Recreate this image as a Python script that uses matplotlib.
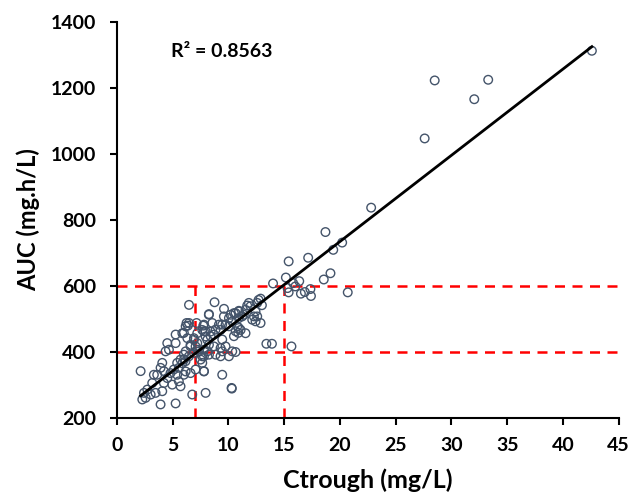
import matplotlib
matplotlib.use("Agg")
import matplotlib.pyplot as plt
import numpy as np

# Ctrough (mg/L) and AUC (mg.h/L)
ctrough = [
    42.6, 28.5, 33.3, 32.05, 27.6, 22.8, 18.7, 20.2, 19.4, 17.15, 15.4, 19.15, 18.55, 15.15,
    14.0, 16.35, 15.8, 15.3, 16.0, 15.4, 16.5, 16.85, 17.35, 17.4, 20.7, 13.4, 13.9, 15.65,
    8.75, 12.88, 13.0, 12.7, 12.58, 11.83, 11.68, 11.98, 11.53, 10.93, 10.64, 10.19, 9.59, 9.6,
    10.04, 10.34, 10.93, 11.23, 11.38, 12.28, 12.43, 12.58, 12.43, 12.88, 12.13, 10.93, 10.64,
    10.88, 10.49, 11.09, 11.53, 10.79, 9.74, 9.14, 8.84, 8.25, 7.8, 7.95, 8.69, 9.44, 9.74,
    9.29, 10.64, 10.34, 9.44, 9.29, 8.55, 8.4, 7.95, 7.65, 7.2, 6.46, 6.16, 5.86, 6.31, 6.9,
    6.6, 7.05, 7.35, 7.8, 7.65, 8.25, 8.85, 9.29, 10.04, 9.44, 8.7, 8.25, 6.16, 6.01, 5.86,
    6.16, 7.8, 9.44, 10.28, 7.95, 6.75, 6.46, 10.04, 10.49, 10.94,
    8.24, 6.24, 6.36, 7.14, 7.74, 6.0, 5.26, 4.51, 5.26, 4.36, 4.66, 6.9, 7.2, 6.6, 7.2, 8.1,
    8.4, 7.8, 8.1, 7.8, 7.5, 6.9, 6.45, 6.0, 5.7, 6.15, 5.4, 5.55, 5.1, 4.8, 4.06, 3.91, 4.21,
    3.61, 3.31, 2.12, 3.16, 2.72, 2.42, 2.57, 2.27, 3.02, 3.46, 4.06, 4.21, 4.51, 4.96, 5.55,
    5.7, 5.4, 6.0, 6.6, 7.05, 7.8, 7.65, 3.91, 5.26, 10.3,
]
auc = [
    1313, 1223, 1225, 1166, 1047, 837, 763, 731, 709, 685, 674, 638, 619, 625,
    607, 614, 608, 593, 598, 580, 576, 581, 590, 569, 580, 424, 424, 416,
    550, 561, 541, 557, 548, 548, 540, 538, 527, 524, 517, 512, 507, 530,
    502, 492, 502, 507, 512, 507, 522, 507, 492, 487, 497, 472, 462,
    457, 447, 466, 456, 477, 482, 482, 467, 514, 482, 462, 452, 437, 416,
    411, 399, 401, 482, 466, 487, 461, 446, 466, 456, 487, 477, 456, 441, 441,
    421, 416, 401, 406, 386, 391, 391, 386, 386, 401, 416, 421, 401, 376, 365,
    340, 340, 330, 290, 275, 270, 542, 477, 517, 522,
    512, 487, 479, 487, 479, 457, 452, 426, 426, 401, 406, 436, 426, 416, 406, 436,
    447, 462, 401, 386, 376, 396, 386, 391, 376, 371, 366, 351, 346, 335, 366, 351, 341,
    330, 330, 341, 305, 285, 275, 260, 255, 270, 275, 280, 305, 320, 300, 310,
    295, 330, 330, 335, 346, 341, 366, 240, 243, 288,
]
r2_label = "R² = 0.8563"
target_auc = [400, 600]
target_ctrough = [7, 15]

x = np.array(ctrough)
y = np.array(auc)
slope, intercept = np.polyfit(x, y, 1)
fit_x = np.array([x.min(), x.max()])

plt.rcParams["font.family"] = ["Lato", "DejaVu Sans"]
plt.rcParams["font.weight"] = "bold"

fig = plt.figure(figsize=(6.31, 5.0), dpi=100)
ax = fig.add_axes([0.1854, 0.1648, 0.795, 0.791])

for level in target_auc:
    ax.plot([0, 45], [level, level], color="#FF0000", lw=1.8, ls=(0, (4, 3)), zorder=1)
for level in target_ctrough:
    ax.plot([level, level], [200, 600], color="#FF0000", lw=1.8, ls=(0, (4, 3)), zorder=1)

ax.scatter(x, y, s=38, facecolors="none", edgecolors="#44546A", linewidths=1.0, zorder=2)
ax.plot(fit_x, intercept + slope * fit_x, color="black", lw=2, zorder=3)

ax.text(4.85, 1294, r2_label, fontsize=14, fontweight="bold")

ax.set_xlim(0, 45)
ax.set_ylim(200, 1400)
ax.set_xticks(np.arange(0, 46, 5))
ax.set_yticks(np.arange(200, 1401, 200))
ax.spines["top"].set_visible(False)
ax.spines["right"].set_visible(False)
ax.spines["left"].set_linewidth(1.5)
ax.spines["bottom"].set_linewidth(1.5)
ax.tick_params(direction="out", length=5, width=1.5, labelsize=14)
ax.tick_params(axis="x", pad=9)
ax.tick_params(axis="y", pad=10)
for lab in ax.get_xticklabels() + ax.get_yticklabels():
    lab.set_fontweight("bold")

ax.set_xlabel("Ctrough (mg/L)", fontsize=18, fontweight="bold", labelpad=10)
ax.set_ylabel("AUC (mg.h/L)", fontsize=17, fontweight="bold", labelpad=8)

fig.savefig("out.png", dpi=100)
